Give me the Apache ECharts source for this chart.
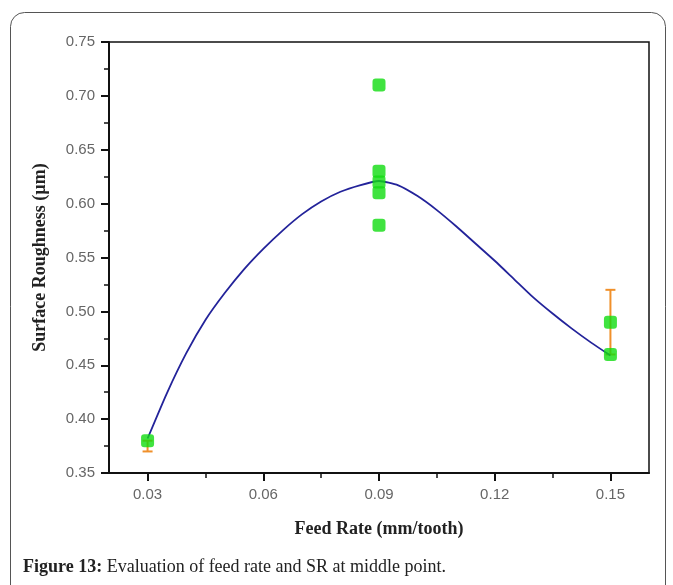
<!DOCTYPE html>
<html>
  <head>
    <meta charset="utf-8">
    <title>Figure 13</title>
    <script src="https://cdn.jsdelivr.net/npm/echarts@6/dist/echarts.min.js"></script>
    <style>
      html, body { margin: 0; padding: 0; background: #fff; }
      #main { width: 673px; height: 585px; }
    </style>
  </head>
  <body>
    <div id="main"></div>
    <script type="text/javascript">
      // measured points (feed rate, roughness)
      var pointX = [0.03, 0.09, 0.09, 0.09, 0.09, 0.09, 0.15, 0.15];
      var pointY = [0.38, 0.71, 0.63, 0.62, 0.61, 0.58, 0.49, 0.46];

      // fitted curve
      var curveX = [0.03, 0.035, 0.04, 0.045, 0.05, 0.055, 0.06, 0.065, 0.07, 0.075, 0.08, 0.085, 0.09,
                    0.095, 0.10, 0.105, 0.11, 0.115, 0.12, 0.125, 0.13, 0.135, 0.14, 0.145, 0.15];
      var curveY = [0.382, 0.424, 0.461, 0.492, 0.517, 0.539, 0.558, 0.575, 0.590, 0.602, 0.611, 0.617, 0.621,
                    0.617, 0.607, 0.594, 0.579, 0.563, 0.547, 0.530, 0.513, 0.498, 0.484, 0.471, 0.459];

      // error bars
      var errX = [0.03, 0.15];
      var errLow = [0.37, 0.46];
      var errHigh = [0.38, 0.52];

      var xTicks = [0.03, 0.06, 0.09, 0.12, 0.15];
      var xMinorTicks = [0.045, 0.075, 0.105, 0.135];

      var points = [];
      for (var i = 0; i < pointX.length; i++) points.push([pointX[i], pointY[i]]);
      var curve = [];
      for (var i = 0; i < curveX.length; i++) curve.push([curveX[i], curveY[i]]);
      var errs = [];
      for (var i = 0; i < errX.length; i++) errs.push([errX[i], errLow[i], errHigh[i]]);

      var labelFont = { color: '#666', fontSize: 15, fontFamily: 'Liberation Sans' };
      var nameFont = { color: '#222', fontSize: 18, fontWeight: 'bold', fontFamily: 'Liberation Serif' };

      var myChart = echarts.init(document.getElementById('main'));
      myChart.setOption({
        animation: false,
        backgroundColor: '#fff',
        graphic: [{
          type: 'rect',
          shape: { x: 10.5, y: 12.5, width: 655, height: 620, r: [14, 14, 0, 0] },
          style: { fill: 'none', stroke: '#555', lineWidth: 1 },
          z: -1
        }],
        title: {
          left: 18, top: 553,
          text: '{b|Figure 13:} Evaluation of feed rate and SR at middle point.',
          textStyle: {
            fontFamily: 'Liberation Serif', fontSize: 18, fontWeight: 'normal', color: '#222',
            rich: { b: { fontFamily: 'Liberation Serif', fontSize: 18, fontWeight: 'bold', color: '#222' } }
          }
        },
        grid: {
          left: 109, right: 24, top: 42, bottom: 112,
          show: true, borderColor: '#111', borderWidth: 1.5
        },
        xAxis: [{
          type: 'value', min: 0.02, max: 0.16,
          name: 'Feed Rate (mm/tooth)', nameLocation: 'middle', nameGap: 47, nameTextStyle: nameFont,
          splitLine: { show: false },
          axisLine: { lineStyle: { color: '#111', width: 2 } },
          axisTick: { customValues: xTicks, length: 8, lineStyle: { color: '#111', width: 2 } },
          axisLabel: Object.assign({ customValues: xTicks, margin: 14, formatter: function (v) { return v.toFixed(2); } }, labelFont)
        }, {
          type: 'value', min: 0.02, max: 0.16, position: 'bottom',
          splitLine: { show: false },
          axisLine: { show: false },
          axisTick: { customValues: xMinorTicks, length: 5, lineStyle: { color: '#111', width: 1.5 } },
          axisLabel: { show: false }
        }],
        yAxis: {
          type: 'value', min: 0.35, max: 0.75, interval: 0.05,
          name: 'Surface Roughness (µm)', nameLocation: 'middle', nameGap: 60, nameTextStyle: nameFont,
          splitLine: { show: false },
          axisLine: { lineStyle: { color: '#111', width: 2 } },
          axisTick: { length: 8, lineStyle: { color: '#111', width: 2 } },
          minorTick: { show: true, splitNumber: 2, length: 5, lineStyle: { color: '#111', width: 1.5 } },
          axisLabel: Object.assign({ margin: 14, formatter: function (v) { return v.toFixed(2); } }, labelFont)
        },
        series: [{
          type: 'custom',
          data: errs,
          z: 2,
          renderItem: function (params, api) {
            var x = api.coord([api.value(0), api.value(1)])[0];
            var lo = api.coord([api.value(0), api.value(1)])[1];
            var hi = api.coord([api.value(0), api.value(2)])[1];
            var w = 5;
            var st = { stroke: '#f0902a', lineWidth: 2 };
            return {
              type: 'group',
              children: [
                { type: 'line', shape: { x1: x, y1: lo, x2: x, y2: hi }, style: st },
                { type: 'line', shape: { x1: x - w, y1: hi, x2: x + w, y2: hi }, style: st },
                { type: 'line', shape: { x1: x - w, y1: lo, x2: x + w, y2: lo }, style: st }
              ]
            };
          }
        }, {
          type: 'line',
          data: curve,
          smooth: 0.2,
          showSymbol: false,
          z: 3,
          lineStyle: { color: '#23239a', width: 1.8 }
        }, {
          type: 'scatter',
          data: points,
          symbol: 'roundRect',
          symbolSize: 13,
          z: 4,
          itemStyle: { color: '#10dc10' }
        }]
      });
    </script>
  </body>
</html>
